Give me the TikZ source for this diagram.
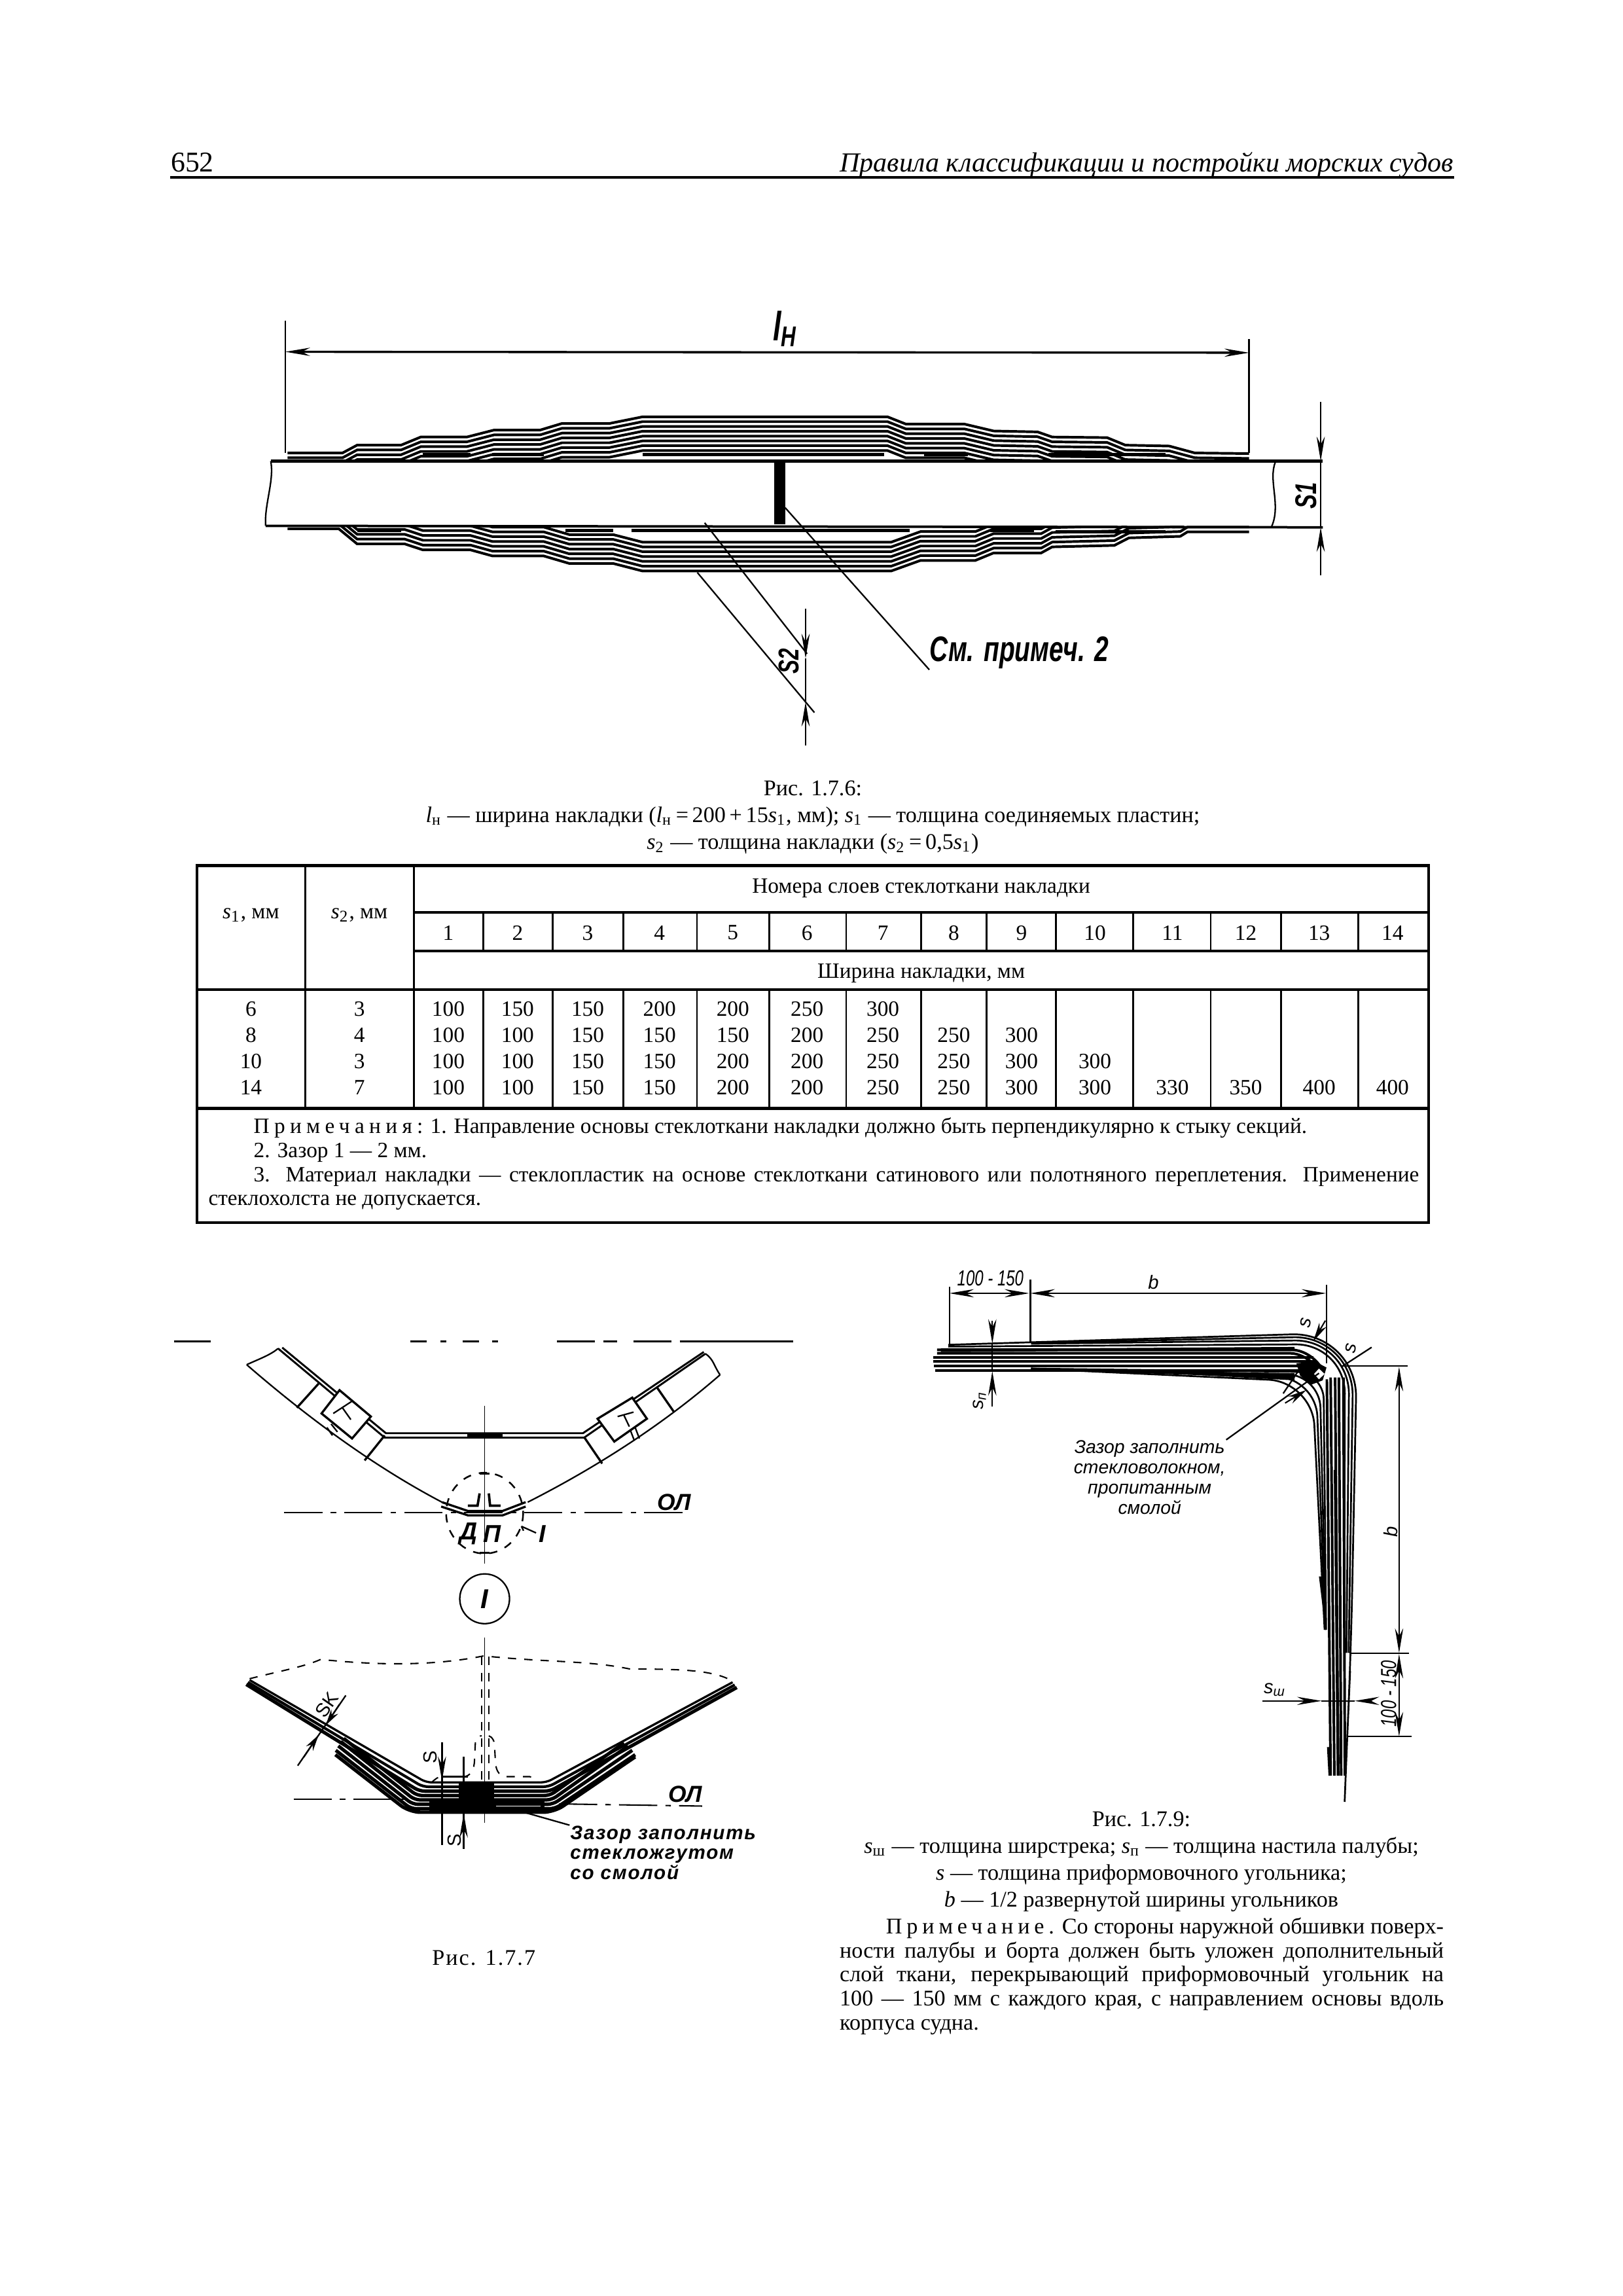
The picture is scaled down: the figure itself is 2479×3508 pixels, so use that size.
\documentclass[tikz,border=0pt]{standalone}
\usepackage{fontspec}
\setmainfont{Liberation Serif}
\newfontfamily\drawfont{Liberation Sans}
\newfontfamily\drawnarrow[FakeStretch=0.72]{Liberation Sans}
\usetikzlibrary{arrows.meta}

\newcommand{\symsub}[2]{\textit{#1}\textsubscript{#2}}
\newcommand{\plytop}{(80,548)--(155,548)--(175,522)--(235,522)--(262,495)--(325,495)--(362,472)--(425,472)--(455,450)--(520,450)--(565,428)--(900,428)--(925,452)--(1005,452)--(1045,475)--(1105,478)--(1125,495)--(1200,497)--(1225,522)--(1285,525)--(1320,548)--(1394,550)}
\newcommand{\plybot}{(80,800)--(150,800)--(175,850)--(240,850)--(265,870)--(330,870)--(360,890)--(430,890)--(465,915)--(525,915)--(565,940)--(905,940)--(945,905)--(1020,905)--(1045,880)--(1110,880)--(1125,860)--(1210,855)--(1230,830)--(1300,825)--(1310,810)--(1394,810)}

\tikzset{every picture/.style={line width=0.55pt},
	bodytext/.style={font=\fontsize{8.2}{9.84}\selectfont,inner sep=0pt,align=center},
	celltext/.style={font=\fontsize{8}{9.58}\selectfont,inner sep=0pt,align=center},
	notetext/.style={font=\fontsize{8}{8.8}\selectfont,inner sep=0pt,align=justify,anchor=north west},
	paratext/.style={font=\fontsize{8.2}{8.8}\selectfont,inner sep=0pt,align=justify,anchor=north west},
	stencil/.style={font=\drawfont\itshape\fontsize{7}{8}\selectfont,inner sep=0pt},
	stencilb/.style={font=\drawfont\itshape\bfseries\fontsize{8.5}{9}\selectfont,inner sep=0pt},
	ply/.style={line width=0.95pt},
	stack/.style={line width=1.25pt,rounded corners=2pt},
	tbl/.style={line width=0.7pt},
	tblb/.style={line width=1pt},
	dim/.style={line width=0.5pt,-{Stealth[length=9pt,width=3pt]}},
	dimboth/.style={line width=0.5pt,{Stealth[length=9pt,width=3pt]}-{Stealth[length=9pt,width=3pt]}},
	axis/.style={line width=0.5pt,dash pattern={on 14pt off 3pt on 2pt off 3pt}},
}

\begin{document}
\begin{tikzpicture}[x=0.24pt,y=0.24pt,yscale=-1,xscale=1]
	\useasboundingbox (0,0) rectangle (2479,3508);
	\fill [white] (0,0) rectangle (2479,3508);

	% Page head
	\draw (260,263) node (pageno) [anchor=base west,inner sep=0pt,font=\fontsize{10.5}{12}\selectfont] {652};
	\draw (2222,263) node (pagehead) [anchor=base east,inner sep=0pt,font=\itshape\fontsize{10.1}{12}\selectfont] {Правила классификации и постройки морских судов};
	\draw [line width=1.1pt] (260,271) -- (2222,271);

	%Figure 1.7.6
	\begin{scope}[shift={(350,440)},xscale=1.118,yscale=0.46]
		%Layers over the plate
		\begin{scope}
			\clip (0,0) rectangle (1560,572);
			\draw [ply] \plytop;
			\draw [ply,yshift=3.84pt] \plytop;
			\draw [ply,yshift=7.68pt] \plytop;
			\draw [ply,yshift=11.5pt] \plytop;
			\draw [ply,yshift=15.4pt] \plytop;
			\draw [ply,yshift=19.2pt] \plytop;
			\draw [ply,yshift=23pt] \plytop;
			\draw [ply,yshift=26.9pt] \plytop;
		\end{scope}
		%Layers under the plate
		\begin{scope}
			\clip (0,790) rectangle (1560,1000);
			\draw [ply] \plybot;
			\draw [ply,yshift=-3.84pt] \plybot;
			\draw [ply,yshift=-7.68pt] \plybot;
			\draw [ply,yshift=-11.5pt] \plybot;
			\draw [ply,yshift=-15.4pt] \plybot;
			\draw [ply,yshift=-19.2pt] \plybot;
			\draw [ply,yshift=-23pt] \plybot;
		\end{scope}
		%Plate
		\draw [line width=1.1pt] (57,575) -- (1495,575);
		\draw [line width=0.9pt] (50,790) -- (1495,795);
		\draw (57,575) .. controls (62,640) and (48,720) .. (50,790);
		\draw (1430,578) .. controls (1420,640) and (1438,720) .. (1425,792);
		\fill (745,580) -- (760,580) -- (760,785) -- (745,785) -- cycle;
		%Dark layer ends
		\draw [line width=1.3pt] (265,553) -- (330,553) (360,553) -- (430,553) (565,553) -- (895,553) (950,553) -- (1010,553) (1120,553) -- (1280,553);
		\draw [line width=1.3pt] (175,805) -- (235,805) (460,805) -- (525,805) (550,805) -- (930,805) (1040,805) -- (1100,805) (1130,810) -- (1280,810);
		%Size lines
		\coordinate (gapA) at (760,730);
		\draw (77,108) -- (77,548);
		\draw (1394,170) -- (1394,548);
		\draw [dimboth,line width=0.8pt] (77,212) -- (1394,215);
		\draw [dim] (1492,378) -- (1492,575);
		\draw [dim] (1492,955) -- (1492,795);
		\draw [line width=0.4pt] (1492,575) -- (1492,795);
		\draw (650,780) -- (790,1215);
		\draw (640,945) -- (800,1410);
		\draw [dim] (788,1065) -- (788,1230);
		\draw [dim] (788,1520) -- (788,1375);
		\draw [line width=0.4pt] (788,1230) -- (788,1375);

		\draw (760,135) node (sizeln) [stencil,font=\drawnarrow\itshape\bfseries\fontsize{15}{16}\selectfont] {l\textsubscript{Н}};
		\draw (1472,690) node (sizesa) [stencil,rotate=90,font=\drawnarrow\itshape\bfseries\fontsize{11}{12}\selectfont] {S1};
		\draw (765,1240) node (sizesb) [stencil,rotate=90,font=\drawnarrow\itshape\bfseries\fontsize{10.5}{12}\selectfont] {S2};
		\draw (1080,1212) node (noteA) [stencil,font=\drawnarrow\itshape\bfseries\fontsize{13}{14}\selectfont] {См. примеч. 2};
		\draw (gapA) -- (noteA.south west);
	\end{scope}

	% Caption of Figure 1.7.6
	\draw (1242,1249) node (capA) [bodytext] {Рис. 1.7.6:\\\symsub{l}{н} — ширина накладки (\symsub{l}{н}\,=\,200\,+\,15\symsub{s}{1}, мм); \symsub{s}{1} — толщина соединяемых пластин;\\\symsub{s}{2} — толщина накладки (\symsub{s}{2}\,=\,0,5\symsub{s}{1})};

	%Table
	\begin{scope}[shift={(280,1170)},xscale=1.246,yscale=0.4665]
		\draw [tblb] (17,327) rectangle (1527,1497);
		\draw [tbl] (150,327) -- (150,1122) (283,327) -- (283,1122);
		\draw [tblb] (283,480) -- (1527,480) (283,607) -- (1527,607);
		\draw [tblb] (17,733) -- (1527,733) (17,1122) -- (1527,1122);
		\draw [tbl] (368,480) -- (368,607) (453,480) -- (453,607) (540,480) -- (540,607) (630,480) -- (630,607) (719,480) -- (719,607) (813,480) -- (813,607) (905,480) -- (905,607) (985,480) -- (985,607) (1070,480) -- (1070,607) (1165,480) -- (1165,607) (1260,480) -- (1260,607) (1346,480) -- (1346,607) (1441,480) -- (1441,607);
		\draw [tbl] (368,733) -- (368,1122) (453,733) -- (453,1122) (540,733) -- (540,1122) (630,733) -- (630,1122) (719,733) -- (719,1122) (813,733) -- (813,1122) (905,733) -- (905,1122) (985,733) -- (985,1122) (1070,733) -- (1070,1122) (1165,733) -- (1165,1122) (1260,733) -- (1260,1122) (1346,733) -- (1346,1122) (1441,733) -- (1441,1122);

		% Header cells
		\draw (83,490) node (heads) [celltext] {\symsub{s}{1}, мм};
		\draw (216,490) node (headt) [celltext] {\symsub{s}{2}, мм};
		\draw (905,402) node (headlayers) [celltext] {Номера слоев стеклоткани накладки};
		\draw (905,680) node (headwidth) [celltext] {Ширина накладки, мм};
		\draw (325,547) node (num1) [celltext] {1};
		\draw (410,547) node (num2) [celltext] {2};
		\draw (496,547) node (num3) [celltext] {3};
		\draw (584,547) node (num4) [celltext] {4};
		\draw (674,547) node (num5) [celltext] {5};
		\draw (765,547) node (num6) [celltext] {6};
		\draw (858,547) node (num7) [celltext] {7};
		\draw (945,547) node (num8) [celltext] {8};
		\draw (1028,547) node (num9) [celltext] {9};
		\draw (1118,547) node (num10) [celltext] {10};
		\draw (1213,547) node (num11) [celltext] {11};
		\draw (1303,547) node (num12) [celltext] {12};
		\draw (1393,547) node (num13) [celltext] {13};
		\draw (1483,547) node (num14) [celltext] {14};

		% Data columns
		\draw (83,1080) node (cols) [celltext,anchor=south] {6\\8\\10\\14};
		\draw (216,1080) node (colt) [celltext,anchor=south] {3\\4\\3\\7};
		\draw (325,1080) node (col1) [celltext,anchor=south] {100\\100\\100\\100};
		\draw (410,1080) node (col2) [celltext,anchor=south] {150\\100\\100\\100};
		\draw (496,1080) node (col3) [celltext,anchor=south] {150\\150\\150\\150};
		\draw (584,1080) node (col4) [celltext,anchor=south] {200\\150\\150\\150};
		\draw (674,1080) node (col5) [celltext,anchor=south] {200\\150\\200\\200};
		\draw (765,1080) node (col6) [celltext,anchor=south] {250\\200\\200\\200};
		\draw (858,1080) node (col7) [celltext,anchor=south] {300\\250\\250\\250};
		\draw (945,1080) node (col8) [celltext,anchor=south] {250\\250\\250};
		\draw (1028,1080) node (col9) [celltext,anchor=south] {300\\300\\300};
		\draw (1118,1080) node (col10) [celltext,anchor=south] {300\\300};
		\draw (1213,1080) node (col11) [celltext,anchor=south] {330};
		\draw (1303,1080) node (col12) [celltext,anchor=south] {350};
		\draw (1393,1080) node (col13) [celltext,anchor=south] {400};
		\draw (1483,1080) node (col14) [celltext,anchor=south] {400};

		% Notes of the table
		\draw (30,1151) node (notes) [notetext,text width=444pt] {\hspace*{16.6pt}{\addfontfeature{LetterSpace=22}Примечания:} 1. Направление основы стеклоткани накладки должно быть перпендикулярно к стыку секций.\\\hspace*{16.6pt}2. Зазор 1 — 2 мм.\\\hspace*{16.6pt}3. Материал накладки — стеклопластик на основе стеклоткани сатинового или полотняного переплетения. Применение\linebreak стеклохолста не допускается.};
	\end{scope}

	%Figure 1.7.7
	\begin{scope}[shift={(260,2020)},xscale=0.639,yscale=0.671]
		\draw (10,44) -- (97,44);
		\draw [dash pattern={on 6pt off 5pt on 2pt off 6pt}] (575,44) -- (820,44);
		\draw [dash pattern={on 14pt off 3pt on 5pt off 6pt}] (925,44) -- (1250,44);
		\draw (1250,44) -- (1490,44);
		%Hull
		\draw (183,97) .. controls (320,210) and (480,325) .. (650,410);
		\draw (855,410) .. controls (1010,335) and (1170,240) .. (1315,120);
		\draw (183,97) .. controls (210,85) and (240,75) .. (258,60);
		\draw (1280,72) .. controls (1300,85) and (1300,100) .. (1315,120);
		\draw [line width=0.7pt] (258,60) -- (513,263) -- (990,263) -- (1280,72);
		\draw [line width=0.7pt] (268,58) -- (516,253) -- (987,253) -- (1276,68);
		\draw [line width=1.6pt] (710,259) -- (795,259);
		\draw [line width=0.8pt] (513,258) -- (465,315) (990,262) -- (1033,322) (355,140) -- (303,195) (1165,150) -- (1205,205);
		%Joints
		\draw [fill=white,line width=0.8pt] (405,155) -- (480,215) -- (435,265) -- (362,208) -- cycle;
		\draw [fill=white,line width=0.8pt] (1105,172) -- (1140,220) -- (1062,272) -- (1022,220) -- cycle;
		\draw (390,208) -- (435,180) (412,195) -- (432,222) (375,240) -- (388,258) (385,232) -- (400,250);
		\draw (1070,215) -- (1108,205) (1085,212) -- (1098,238) (1100,245) -- (1110,270) (1112,240) -- (1122,265);
		%Axes
		\draw [line width=0.4pt] (752,190) -- (752,550);
		\draw [axis] (273,433) -- (1237,433);
		\draw [dashed,line width=0.6pt] (752,435) circle [radius=92];
		\draw [line width=0.8pt] (740,345) -- (764,345) (740,525) -- (764,525);
		%Keel
		\draw [line width=0.8pt] (650,410) -- (712,430) -- (795,430) -- (850,410);
		\draw [line width=0.8pt] (648,420) -- (712,440) -- (795,440) -- (850,420);
		\draw [line width=0.9pt] (712,418) -- (735,418) -- (740,390) (790,418) -- (765,418) -- (762,390);
		\draw (840,465) -- (875,480) (840,465) -- (845,475);
		\draw (1205,410) node (olA) [stencilb] {ОЛ};
		\draw (713,482) node (dpA) [stencilb,font=\drawfont\itshape\bfseries\fontsize{9}{10}\selectfont] {Д};
		\draw (770,482) node (dpB) [stencilb,font=\drawfont\itshape\bfseries\fontsize{9}{10}\selectfont] {П};
		\draw (890,482) node (markA) [stencilb,font=\drawfont\itshape\bfseries\fontsize{9}{10}\selectfont] {I};
		\draw (752,630) node (markB) [circle,draw,minimum size=76*0.24pt,inner sep=0pt,font=\drawfont\itshape\bfseries\fontsize{10}{11}\selectfont] {I};

		%Detail I
		\draw [dashed,line width=0.5pt] (190,812) .. controls (260,795) and (320,785) .. (360,768) .. controls (480,780) and (620,785) .. (750,760) .. controls (900,775) and (1000,770) .. (1100,790) .. controls (1200,790) and (1300,790) .. (1345,818);
		\draw [line width=0.4pt] (752,718) -- (752,1140);
		\draw [dashed,line width=0.4pt] (745,762) -- (745,1050) (762,762) -- (762,1050);
		\draw [dashed,line width=0.5pt] (625,1048) .. controls (635,1040) and (640,1035) .. (650,1035) -- (705,1035) .. controls (725,1030) and (728,1010) .. (728,990) -- (730,955) .. controls (732,945) and (740,942) .. (745,942);
		\draw [dashed,line width=0.5pt] (762,942) .. controls (772,945) and (776,955) .. (776,970) -- (778,1005) .. controls (780,1025) and (790,1035) .. (805,1035) -- (860,1035) .. controls (870,1037) and (875,1045) .. (880,1048);
		\draw [line width=0.8pt,rounded corners=2pt] (190,815) -- (612,1048) -- (900,1048) -- (1345,820);
		\draw [line width=1pt,rounded corners=2pt] (186,820) -- (604,1058) -- (905,1058) -- (1350,826);
		\draw [stack] (182,825) -- (596,1068) -- (908,1068) -- (1355,832);
		\draw [stack] (415,948) -- (590,1078) -- (908,1078) -- (1085,958);
		\draw [stack] (408,955) -- (585,1088) -- (912,1088) -- (1095,965);
		\draw [stack] (402,965) -- (580,1098) -- (915,1098) -- (1105,975);
		\draw [stack] (396,975) -- (576,1108) -- (920,1108) -- (1112,985);
		\draw [stack,rounded corners=4pt] (395,985) -- (572,1116) -- (918,1116) -- (1112,990);
		\fill (620,1090) rectangle (895,1118);
		\fill (690,1050) rectangle (775,1118);
		\draw [white,line width=0.3pt] (780,1102) -- (885,1102);
		\draw [axis] (295,1087) -- (560,1087);
		\draw [axis] (930,1097) -- (1272,1102);
		\coordinate (gapB) at (850,1117);
		%Sizes of detail I
		\draw (420,850) -- (305,1010);
		\draw (650,957) -- (650,1190);
		\draw (702,990) -- (702,1200);
		\draw [dim] (650,957) -- (650,1045);
		\draw [dim] (702,1200) -- (702,1118);
		\draw (650,1035) -- (712,1035);
		\draw (375,872) node (sizesk) [stencil,rotate=55,font=\drawfont\fontsize{7}{8}\selectfont] {SK};
		\draw [dim,-{Stealth[length=6pt,width=3pt]}] (405,870) -- (372,918);
		\draw [dim,-{Stealth[length=6pt,width=3pt]}] (320,990) -- (355,940);
		\draw (622,990) node (sizesc) [stencil,rotate=90,font=\drawfont\fontsize{7}{8}\selectfont] {S};
		\draw (680,1180) node (sizesd) [stencil,rotate=90,font=\drawfont\fontsize{7}{8}\selectfont] {S};
		\draw (1232,1075) node (olB) [stencilb] {ОЛ};
		\draw (955,1208) node (noteB) [stencil,anchor=west,align=left,font=\drawfont\itshape\bfseries\addfontfeature{LetterSpace=6}\fontsize{7.1}{7.3}\selectfont] {Зазор заполнить\\стекложгутом\\со смолой};
		\draw (gapB) -- (noteB.north west);
		\draw (750,1447) node (capB) [bodytext,font=\addfontfeature{LetterSpace=6}\fontsize{8.2}{9.8}\selectfont] {Рис. 1.7.7};
	\end{scope}

	%Figure 1.7.9
	\begin{scope}[shift={(1380,1920)},xscale=0.575,yscale=0.543]
		%Deck and side plates
		\draw [ply] (80,283) -- (1090,283) (80,295) -- (1095,295) (82,307) -- (1095,307) (85,320) -- (1095,320);
		\draw [ply] (1126,345) -- (1136,1460) (1136,340) -- (1146,1460) (1148,340) -- (1156,1460) (1158,340) -- (1164,1460) (1170,340) -- (1174,1460);
		%Outer angle
		\draw [rounded corners=24pt,line width=0.65pt] (120,248) -- (1207,213) -- (1190,1115) -- (1180,1350) -- (1176,1460);
		\draw [rounded corners=22pt,line width=0.65pt] (340,243) -- (1197,223) -- (1184,1115);
		\draw [rounded corners=20pt,line width=0.65pt] (340,245) -- (1186,234) -- (1178,1115);
		\draw [rounded corners=18pt,line width=0.65pt] (120,253) -- (1174,246) -- (1172,1115);
		%Inner angle
		\draw [rounded corners=16pt,line width=0.65pt] (340,315) -- (1087,352) -- (1120,1050);
		\draw [rounded corners=14pt,line width=0.65pt] (340,315) -- (1097,342) -- (1122,1050);
		\draw [rounded corners=12pt,line width=0.65pt] (340,315) -- (1107,333) -- (1123,1050);
		\draw [rounded corners=10pt,line width=0.65pt] (340,315) -- (1117,325) -- (1124,1050);
		\draw [ply] (90,262) -- (1030,262) .. controls (1060,262) and (1090,280) .. (1110,310);
		\draw [ply] (90,272) -- (1030,272) .. controls (1050,272) and (1075,285) .. (1095,305);
		%Dark parts
		\fill (100,258) -- (420,258) -- (1040,254) -- (1040,266) -- (420,266) -- (170,268) -- (100,268) -- cycle;
		\fill (560,320) -- (1040,348) -- (1040,328) -- cycle;
		\fill (1045,300) -- (1095,295) -- (1125,312) -- (1115,348) -- (1085,360) -- (1055,335) -- cycle;
		\fill (1105,900) -- (1122,1050) -- (1118,900) -- cycle;
		\fill [white] (1105,315) -- (1120,330) -- (1105,345) -- (1092,330) -- cycle;
		\draw [line width=1pt] (1148,600) -- (1156,1460) (1130,1380) -- (1134,1460);
		%Size lines
		\coordinate (gapC) at (1105,328);
		\draw (123,85) -- (123,250);
		\draw (338,65) -- (338,240);
		\draw (1125,80) -- (1125,300);
		\draw [dimboth] (123,103) -- (335,103);
		\draw [dimboth] (338,103) -- (1124,103);
		\draw [dim] (237,180) -- (237,245);
		\draw [dim] (237,422) -- (237,322);
		\draw (237,245) -- (237,322);
		\draw [dim,-{Stealth[length=7pt,width=3pt]}] (1122,180) -- (1090,238);
		\draw (1245,255) -- (1165,310);
		\draw (1165,308) -- (1340,308);
		\draw (1010,385) -- (1048,325);
		\draw [dim,-{Stealth[length=7pt,width=3pt]}] (1015,412) -- (1072,375);
		\draw [dimboth] (1318,310) -- (1318,1115);
		\draw [dimboth] (1318,1118) -- (1318,1350);
		\draw (1190,1116) -- (1345,1116);
		\draw (1180,1350) -- (1352,1350);
		\draw [dim] (955,1250) -- (1112,1250);
		\draw [dim] (1245,1250) -- (1200,1250);
		\draw (1112,1250) -- (1200,1250);

		\draw (232,60) node (sizeca) [stencil,font=\drawnarrow\itshape\fontsize{8}{9}\selectfont] {100 - 150};
		\draw (665,72) node (sizecb) [stencil] {b};
		\draw (1070,186) node (sizecc) [stencil,rotate=80] {s};
		\draw (1190,258) node (sizecd) [stencil,rotate=80] {s};
		\draw (203,405) node (sizece) [stencil,rotate=90] {s\textsubscript{п}};
		\draw (1295,775) node (sizecf) [stencil,rotate=90] {b};
		\draw (1290,1230) node (sizecg) [stencil,rotate=90,font=\drawnarrow\itshape\fontsize{8}{9}\selectfont] {100 - 150};
		\draw (988,1218) node (sizech) [stencil] {s\textsubscript{ш}};
		\draw (655,621) node (noteC) [stencil,align=center,font=\drawfont\itshape\fontsize{6.8}{7.4}\selectfont] {Зазор заполнить\\стекловолокном,\\пропитанным\\смолой};
		\draw (noteC.north east) -- (gapC);
	\end{scope}

	% Caption of Figure 1.7.9
	\draw (1744,2844) node (capC) [bodytext] {Рис. 1.7.9:\\\symsub{s}{ш} — толщина ширстрека; \symsub{s}{п} — толщина настила палубы;\\\textit{s} — толщина приформовочного угольника;\\\textit{b} — 1/2 развернутой ширины угольников};
	\draw (1282,2929) node (paraC) [paratext,text width=221.5pt] {\hspace*{17pt}{\addfontfeature{LetterSpace=20}Примечание.} Со стороны наружной обшивки поверх-\linebreak ности палубы и борта должен быть уложен дополнительный\linebreak слой ткани, перекрывающий приформовочный угольник на\linebreak 100 — 150 мм с каждого края, с направлением основы вдоль\linebreak корпуса судна.};
\end{tikzpicture}
\end{document}
